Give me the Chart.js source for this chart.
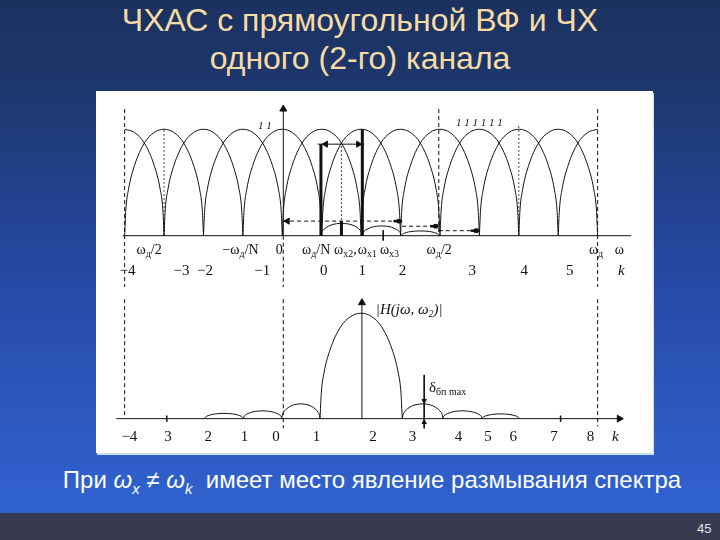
<!DOCTYPE html>
<html>
<head>
<meta charset="utf-8">
<script src="https://cdn.jsdelivr.net/npm/chart.js@4.4.0/dist/chart.umd.min.js"></script>
<style>
html, body { margin: 0; padding: 0; }
body {
	width: 720px; height: 540px; overflow: hidden; position: relative;
	background: linear-gradient(to bottom, #1b3160 0px, #1d386e 90px, #2647a0 260px, #2c57be 400px, #3162d0 512px);
	font-family: "Liberation Sans", Arial, sans-serif;
}
#title { position: absolute; left: 0; top: 1px; width: 720px; text-align: center; color: #f6dba4; font-size: 32px; line-height: 38px; }
#panel { position: absolute; left: 96px; top: 91px; width: 557px; height: 362px; background: #fff; box-shadow: 1px 2px 0 #c9def0; }
#topChart { position: absolute; left: 0; top: 0; }
#botChart { position: absolute; left: 0; top: 201px; }
#caption { position: absolute; left: 12px; top: 466px; width: 720px; text-align: center; color: #fff; font-size: 24px; line-height: 28px; }
#caption sub { font-size: 15px; }
#footer { position: absolute; left: 0; top: 513px; width: 720px; height: 27px; background: #383b4f; }
#pageNo { position: absolute; left: 697px; top: 521px; color: #e4e4e4; font-size: 13px; }
</style>
</head>
<body>
<div id="title">ЧХАС с прямоугольной ВФ и ЧХ<br>одного (2-го) канала</div>
<div id="panel">
	<canvas id="topChart" width="557" height="201"></canvas>
	<canvas id="botChart" width="557" height="161"></canvas>
</div>
<div id="caption">При <i>ω</i><sub><i>x</i></sub> ≠ <i>ω</i><sub><i>k</i></sub>&nbsp; имеет место явление размывания спектра</div>
<div id="footer"></div>
<div id="pageNo">45</div>
<script>
// x unit = one channel step (ωд/N), 0 at ω = 0
const xMin = -4.6, xMax = 9.278;

// shape of one lobe (half width 1, height 1)
const lobeU = [-1, -0.97, -0.9, -0.75, -0.5, -0.25, 0, 0.25, 0.5, 0.75, 0.9, 0.97, 1];
const lobeH = [0, 0.24, 0.44, 0.66, 0.87, 0.97, 1, 0.97, 0.87, 0.66, 0.44, 0.24, 0];

// top: channel responses
const archCenters = [-4, -3, -2, -1, 0, 1, 2, 3, 4, 5, 6, 7, 8];

// top: small humps near the axis
const humpCenters = [1.505, 2.52, 3.5];
const humpHalf = [0.525, 0.495, 0.475];
const humpHeights = [0.116, 0.092, 0.045];

// top: thick sample bars
const barX = [0.98, 2.03];
const barY = [0.86, 1.0];

// top: dashed levels with end marks
const levelY = [0.137, 0.089, 0.047];
const levelFrom = [0.02, 3.04, 3.97];
const levelTo = [3.04, 3.97, 5.0];

// bottom: |H(jω, ω2)|
const lobeCenters = [-1.48, -0.5, 0.47, 2.0, 3.56, 4.57, 5.54];
const lobeHalf = [0.49, 0.49, 0.485, 1.043, 0.515, 0.5, 0.47];
const lobeHeights = [0.05, 0.074, 0.14, 1.0, 0.14, 0.074, 0.045];

// tick labels
const topOmegaPos = [-3.38, -1.06, -0.08, 0.86, 1.6, 2.16, 2.72, 3.98, 7.96, 8.55];
const topOmegaLabels = ['ω_{д}/2', '−ω_{д}/N', '0', 'ω_{д}/N', 'ω_{x2},', 'ω_{x1}', 'ω_{x3}', 'ω_{д}/2', 'ω_{д}', 'ω'];
const topKPos = [-3.93, -2.56, -1.96, -0.51, 1.05, 2.03, 3.05, 4.82, 6.14, 7.29, 8.6];
const topKLabels = ['−4', '−3', '−2', '−1', '0', '1', '2', '3', '4', '5', 'k'];
const botKPos = [-3.88, -2.9, -1.88, -0.96, -0.16, 0.87, 2.3, 3.3, 4.47, 5.22, 5.86, 6.89, 7.82, 8.45];
const botKLabels = ['−4', '3', '2', '1', '0', '1', '2', '3', '4', '5', '6', '7', '8', 'k'];

const INK = '#111';

function lobe(c, hw, h, from, to) {
	let pts = [];
	for (let i = 0; i < lobeU.length; i++) {
		if (lobeU[i] < from || lobeU[i] > to) continue;
		pts.push({x: c + lobeU[i] * hw, y: h * lobeH[i]});
	}
	return pts;
}

function curve(pts, w) {
	return {data: pts, showLine: true, borderColor: INK, borderWidth: w || 1, pointRadius: 0,
		cubicInterpolationMode: 'monotone', fill: false};
}
function seg(x0, y0, x1, y1, w, dash) {
	return {data: [{x: x0, y: y0}, {x: x1, y: y1}], showLine: true, borderColor: INK,
		borderWidth: w || 1, borderDash: dash || [], pointRadius: 0, fill: false};
}
function marks(pts, style, rot, r) {
	return {data: pts, showLine: false, pointStyle: style, rotation: rot || 0, pointRadius: r || 4,
		pointBackgroundColor: INK, pointBorderColor: INK, pointBorderWidth: 1};
}
const DASH = [4, 3], DOT = [1.5, 2.5];

// draws text with _{..} subscripts at data coordinates
function drawText(ctx, px, py, text, size, italic, align) {
	let parts = text.split(/_\{([^}]*)\}/);
	let fam = '"Liberation Serif", "Times New Roman", serif';
	let st = italic ? 'italic ' : '';
	let fMain = st + size + 'px ' + fam, fSub = st + Math.round(size * 0.68) + 'px ' + fam;
	let w = 0;
	for (let i = 0; i < parts.length; i++) {
		ctx.font = i % 2 ? fSub : fMain;
		w += ctx.measureText(parts[i]).width;
	}
	let x = align === 'left' ? px : px - w / 2;
	ctx.fillStyle = INK;
	ctx.textBaseline = 'middle';
	ctx.textAlign = 'left';
	for (let i = 0; i < parts.length; i++) {
		ctx.font = i % 2 ? fSub : fMain;
		ctx.fillText(parts[i], x, py + (i % 2 ? size * 0.32 : 0));
		x += ctx.measureText(parts[i]).width;
	}
}
function labelsPlugin(items) {
	return {
		id: 'labels',
		afterDatasetsDraw(chart) {
			let ctx = chart.ctx, sx = chart.scales.x, sy = chart.scales.y;
			ctx.save();
			items.forEach(function (it) {
				drawText(ctx, sx.getPixelForValue(it.x), sy.getPixelForValue(it.y), it.text,
					it.size || 14, it.text === 'k' || it.italic, it.align);
			});
			ctx.restore();
		}
	};
}

function baseOptions(yMin, yMax) {
	return {
		responsive: false, animation: false, events: [],
		layout: {padding: 0},
		plugins: {legend: {display: false}, tooltip: {enabled: false}},
		scales: {
			x: {type: 'linear', min: xMin, max: xMax, display: false},
			y: {type: 'linear', min: yMin, max: yMax, display: false}
		}
	};
}

// ---------- top chart ----------
let topSets = [];
for (let i = 0; i < archCenters.length; i++) {
	let from = i === 0 ? 0 : -1, to = i === archCenters.length - 1 ? 0 : 1;
	topSets.push(curve(lobe(archCenters[i], 1, 1, from, to)));
}
for (let i = 0; i < humpCenters.length; i++) {
	topSets.push(curve(lobe(humpCenters[i], humpHalf[i], humpHeights[i], -1, 1)));
}
topSets.push(seg(-4.05, 0, 8.85, 0));               // axis
topSets.push(seg(0.025, 0, 0.025, 1.2));             // ordinate
topSets.push(marks([{x: 0.025, y: 1.19}], 'triangle', 0, 4));
topSets.push(seg(-4, 1.19, -4, -0.6, 1, DASH));
topSets.push(seg(0.025, 0, 0.025, -0.6, 1, DASH));
topSets.push(seg(3.97, 1.19, 3.97, 0, 1, DASH));
topSets.push(seg(8, 1.19, 8, -0.6, 1, DASH));
topSets.push(seg(-3, 0, -3, 1, 1, DOT));
topSets.push(seg(1.5, 0, 1.5, barY[0], 1, DOT));
topSets.push(seg(6, 0, 6, 1.05, 1, DOT));
for (let i = 0; i < barX.length; i++) topSets.push(seg(barX[i], 0, barX[i], barY[i], 3));
topSets.push(seg(1.5, 0, 1.5, levelY[0], 3));
topSets.push(seg(barX[0] - 0.08, barY[0], barX[1] + 0.05, barY[0], 1));
topSets.push(marks([{x: barX[0] + 0.12, y: barY[0]}], 'triangle', -90, 3.5));
topSets.push(marks([{x: barX[1] - 0.1, y: barY[0]}], 'triangle', 90, 3.5));
for (let i = 0; i < levelY.length; i++) {
	topSets.push(seg(levelFrom[i], levelY[i], levelTo[i], levelY[i], 1, DASH));
	topSets.push(marks([{x: levelTo[i] - 0.08, y: levelY[i]}], 'rect', 0, 2.5));
	topSets.push(seg(levelTo[i] - 0.22, levelY[i], levelTo[i], levelY[i], 2.5));
}
topSets.push(marks([{x: 0.13, y: levelY[0]}], 'triangle', -90, 3.5));
topSets.push(seg(2.56, 0.05, 2.56, -0.045, 1));      // ω_x3 mark

let topItems = [];
for (let i = 0; i < topOmegaPos.length; i++) topItems.push({x: topOmegaPos[i], y: -0.134, text: topOmegaLabels[i], size: 14});
for (let i = 0; i < topKPos.length; i++) topItems.push({x: topKPos[i], y: -0.33, text: topKLabels[i], size: 15});
topItems.push({x: -0.44, y: 1.03, text: '1 1', size: 11, italic: true});
topItems.push({x: 5.0, y: 1.06, text: '1 1 1 1 1 1', size: 11, italic: true});

new Chart(document.getElementById('topChart').getContext('2d'), {
	type: 'scatter',
	data: {datasets: topSets},
	options: baseOptions(-0.482, 1.3125),
	plugins: [labelsPlugin(topItems)]
});

// ---------- bottom chart ----------
let botSets = [];
for (let i = 0; i < lobeCenters.length; i++) {
	botSets.push(curve(lobe(lobeCenters[i], lobeHalf[i], lobeHeights[i], -1, 1)));
}
botSets.push(seg(-4.21, 0, 8.6, 0));
botSets.push(marks([{x: 8.55, y: 0}], 'triangle', 90, 4));
botSets.push(seg(2.02, 0, 2.02, 1.1));
botSets.push(marks([{x: 2.02, y: 1.1}], 'triangle', 0, 4));
botSets.push(seg(-4, 1.2, -4, 0.015, 1, DASH));
botSets.push(seg(0.025, 1.2, 0.025, -0.09, 1, DASH));
botSets.push(seg(8, 1.2, 8, -0.074, 1, DASH));
botSets.push(seg(-2.93, 0.03, -2.93, -0.03, 1.5));
botSets.push(seg(7.06, 0.03, 7.06, -0.03, 1.5));
botSets.push(seg(3.6, 0.415, 3.6, -0.092, 1));
botSets.push(marks([{x: 3.6, y: 0.17}], 'triangle', 180, 2.5));
botSets.push(marks([{x: 3.6, y: -0.035}], 'triangle', 0, 2.5));

let botItems = [];
for (let i = 0; i < botKPos.length; i++) botItems.push({x: botKPos[i], y: -0.178, text: botKLabels[i], size: 15});
botItems.push({x: 3.22, y: 1.03, text: '|H(jω, ω_{2})|', size: 15, italic: true});
botItems.push({x: 3.72, y: 0.29, text: 'δ_{бп max}', size: 15, align: 'left'});

new Chart(document.getElementById('botChart').getContext('2d'), {
	type: 'scatter',
	data: {datasets: botSets},
	options: baseOptions(-0.2785, 1.154),
	plugins: [labelsPlugin(botItems)]
});
</script>
</body>
</html>
